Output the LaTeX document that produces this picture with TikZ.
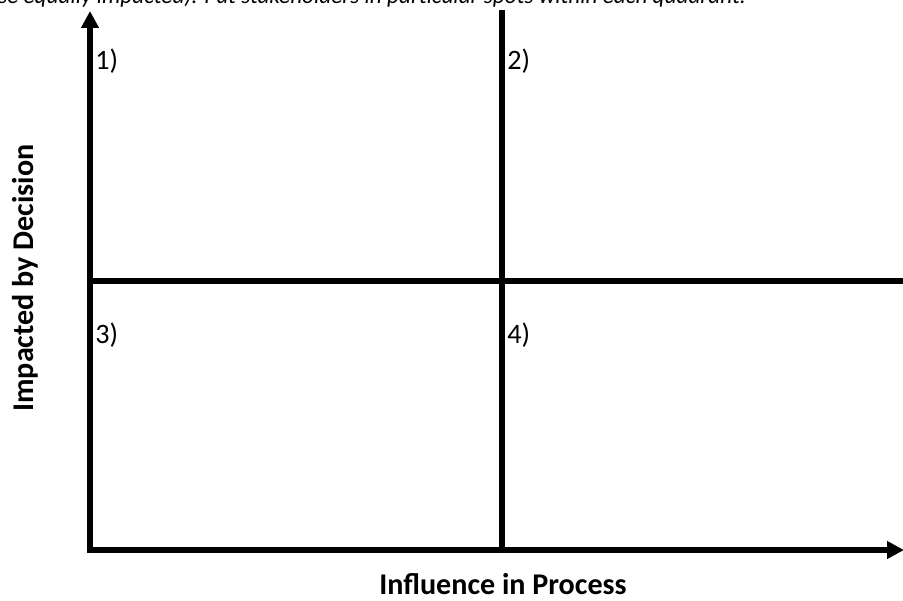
\documentclass[tikz,border=0pt]{standalone}
\usepackage{fontspec}
\setmainfont{Carlito}
\usetikzlibrary{arrows.meta}

\tikzset{
  axis/.style={line width=4.2pt, -{Triangle[length=0.42cm, width=0.42cm]}},
  divider/.style={line width=3.6pt},
  quadlabel/.style={anchor=west, inner sep=0pt, font=\fontsize{20}{22}\selectfont},
  axislabel/.style={inner sep=0pt, font=\fontsize{21.4}{24}\selectfont\bfseries}
}

\begin{document}
\begin{tikzpicture}[x=0.025cm, y=-0.025cm]
  \useasboundingbox (0,0) rectangle (903,600);
  \clip (0,0) rectangle (903,600);
  \coordinate (O) at (90,550);
  \coordinate (Ytop) at (90,11);
  \coordinate (Xend) at (904,550);
  \coordinate (Mtop) at (502,10);
  \coordinate (Mbot) at (502,550);
  \coordinate (Hleft) at (88,281);
  \coordinate (Hright) at (905,281);
  % cut-off instruction line at the top
  \node[anchor=base west, inner sep=0pt, font=\fontsize{16.5}{18}\selectfont\itshape]
    (note) at (-2,3) {se equally impacted). Put stakeholders in particular spots within each quadrant.};
  % quadrant dividers
  \draw[divider] (Mtop) -- (Mbot);
  \draw[divider] (Hleft) -- (Hright);
  % axes
  \draw[axis] ([yshift=-2pt]O) -- (Ytop);
  \draw[axis] ([xshift=-2pt]O) -- (Xend);
  % quadrant numbers
  \node[quadlabel] (q1) at (95,61)  {1)};
  \node[quadlabel] (q2) at (507,61) {2)};
  \node[quadlabel] (q3) at (95,335) {3)};
  \node[quadlabel] (q4) at (507,335) {4)};
  % axis titles
  \node[axislabel, rotate=90] (ylab) at (25,278) {Impacted by Decision};
  \node[axislabel] (xlab) at (503,584) {Influence in Process};
\end{tikzpicture}
\end{document}
